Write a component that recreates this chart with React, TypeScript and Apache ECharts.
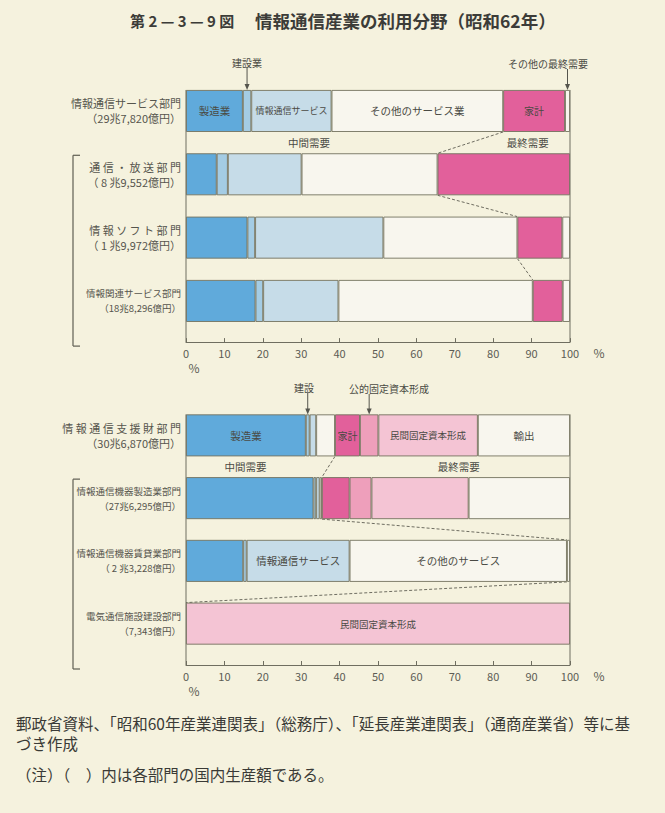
import React, { useEffect, useRef } from "react";
import * as echarts from "echarts";

// ---- data ----
const topCategories = ["情報通信サービス部門", "通 信 ・ 放 送 部 門", "情 報 ソ フ ト 部 門", "情報関連サービス部門"];
const topAmounts = ["（29兆7,820億円）", "（ 8 兆9,552億円）", "（ 1 兆9,972億円）", "（18兆8,296億円）"];
const bottomCategories = ["情 報 通 信 支 援 財 部 門", "情報通信機器製造業部門", "情報通信機器賃貸業部門", "電気通信施設建設部門"];
const bottomAmounts = ["（30兆6,870億円）", "（27兆6,295億円）", "（ 2 兆3,228億円）", "（7,343億円）"];

const xTickMin = 0;
const xTickMax = 100;
const xTickStep = 10;

// top panel (% of output)
const topManufacturing = [14.8, 8.0, 16.0, 18.1];
const topConstruction = [2.2, 2.9, 2.0, 2.0];
const topInfoServices = [20.9, 19.2, 33.4, 19.6];
const topOtherServices = [44.7, 35.4, 34.9, 50.6];
const topHouseholds = [16.1, 34.5, 11.7, 7.8];
const topOtherFinal = [1.3, 0, 2.0, 1.9];

// bottom panel (% of output)
const bottomManufacturing = [31.2, 33.2, 14.9, 0];
const bottomConstruction = [1.0, 0.7, 0.9, 0];
const bottomInfoServices = [1.7, 0.9, 26.8, 0];
const bottomOtherServices = [4.9, 0.6, 56.6, 0];
const bottomHouseholds = [6.5, 7.2, 0, 0];
const bottomPublicCapital = [4.8, 5.7, 0, 0];
const bottomPrivateCapital = [25.9, 25.3, 0, 100];
const bottomExports = [24.0, 26.4, 0.8, 0];

const FONT = '"Noto Sans CJK JP", "Noto Sans", sans-serif';
const BORDER = "#74735f";
const TXT = "#4a4a44";

type Seg = {
  name: string;
  data: number[];
  color: string;
  labels: number[];
  sizes?: number[];
  intermediate: boolean;
};

const topSegs: Seg[] = [
  { name: "製造業", data: topManufacturing, color: "#60aadb", labels: [0], sizes: [10.5], intermediate: true },
  { name: "建設業", data: topConstruction, color: "#a4cce4", labels: [], intermediate: true },
  { name: "情報通信サービス", data: topInfoServices, color: "#c6dce8", labels: [0], sizes: [9], intermediate: true },
  { name: "その他のサービス業", data: topOtherServices, color: "#f8f6ee", labels: [0], sizes: [10.5], intermediate: true },
  { name: "家計", data: topHouseholds, color: "#e2609b", labels: [0], sizes: [10], intermediate: false },
  { name: "その他の最終需要", data: topOtherFinal, color: "#f8f6ee", labels: [], intermediate: false },
];

const bottomSegs: Seg[] = [
  { name: "製造業", data: bottomManufacturing, color: "#60aadb", labels: [0], sizes: [10.5], intermediate: true },
  { name: "建設", data: bottomConstruction, color: "#a4cce4", labels: [], intermediate: true },
  { name: "情報通信サービス", data: bottomInfoServices, color: "#c6dce8", labels: [2], sizes: [0, 0, 10.5], intermediate: true },
  { name: "その他のサービス", data: bottomOtherServices, color: "#f8f6ee", labels: [2], sizes: [0, 0, 10.5], intermediate: true },
  { name: "家計", data: bottomHouseholds, color: "#e2609b", labels: [0], sizes: [10], intermediate: false },
  { name: "公的固定資本形成", data: bottomPublicCapital, color: "#ee9fbb", labels: [], intermediate: false },
  { name: "民間固定資本形成", data: bottomPrivateCapital, color: "#f4c4d4", labels: [0, 3], sizes: [9.5, 0, 0, 9.5], intermediate: false },
  { name: "輸出", data: bottomExports, color: "#f8f6ee", labels: [0], sizes: [10.5], intermediate: false },
];

const GRIDS = [
  { top: 79.3, height: 253.3, offset: 9.5 },
  { top: 404, height: 251, offset: 10 },
];
const BAR_W = 42;

function makeSeries(segs: Seg[], gi: number) {
  return segs.map((s) => ({
    type: "bar",
    name: s.name,
    stack: "p" + gi,
    xAxisIndex: gi,
    yAxisIndex: gi,
    barWidth: BAR_W,
    itemStyle: { color: s.color, borderColor: BORDER, borderWidth: 0.9 },
    label: { show: false },
    emphasis: { disabled: true },
    data: s.data.map((v, i) => {
      if (v === 0) return "-";
      const show = s.labels.includes(i);
      return {
        value: v,
        label: show
          ? {
              show: true,
              position: "inside",
              formatter: s.name,
              color: TXT,
              fontFamily: FONT,
              fontSize: (s.sizes && s.sizes[i]) || 10,
            }
          : { show: false },
      };
    }),
  }));
}

function yAxisFor(gi: number, cats: string[], amounts: string[], small: boolean[]) {
  return {
    type: "category",
    gridIndex: gi,
    data: cats,
    inverse: true,
    axisLine: { show: false },
    axisTick: { show: false },
    axisLabel: {
      margin: 5,
      align: "right",
      color: "#55554d",
      fontFamily: FONT,
      formatter: (v: string, i: number) => {
        const k = small[i] ? "s" : "a";
        return `{${k}|${v}}\n{${k}|${amounts[i]}}`;
      },
      rich: {
        a: { fontSize: 11, lineHeight: 15, fontFamily: FONT, color: "#55554d", align: "right" },
        s: { fontSize: 9.5, lineHeight: 15, fontFamily: FONT, color: "#55554d", align: "right" },
      },
    },
  };
}

function xAxisFor(gi: number) {
  return {
    type: "value",
    gridIndex: gi,
    min: xTickMin,
    max: xTickMax,
    interval: xTickStep,
    offset: GRIDS[gi].offset,
    splitLine: { show: false },
    axisLine: { show: true, lineStyle: { color: "#6f6e60", width: 1 } },
    axisTick: { show: true, inside: true, length: 4, lineStyle: { color: "#6f6e60" } },
    axisLabel: { color: "#5c5c54", fontSize: 11, margin: 5, fontFamily: FONT },
  };
}

export default function App() {
  const ref = useRef<HTMLDivElement>(null);
  useEffect(() => {
    if (!ref.current) return;
    const chart = echarts.init(ref.current, null, { renderer: "svg" });
    const option: any = {
      animation: false,
      backgroundColor: "#f5f2de",
      grid: GRIDS.map((g) => ({ left: 186, right: 95, top: g.top, height: g.height, containLabel: false })),
      xAxis: [xAxisFor(0), xAxisFor(1)],
      yAxis: [
        yAxisFor(0, topCategories, topAmounts, [false, false, false, true]),
        yAxisFor(1, bottomCategories, bottomAmounts, [false, true, true, true]),
      ],
      series: [...makeSeries(topSegs, 0), ...makeSeries(bottomSegs, 1)],
    };
    chart.setOption(option);

    const px = (gi: number, v: number) => chart.convertToPixel({ xAxisIndex: gi } as any, v) as number;
    const py = (gi: number, i: number) => chart.convertToPixel({ yAxisIndex: gi } as any, i) as number;
    const half = BAR_W / 2;
    const g: any[] = [];
    const line = (x1: number, y1: number, x2: number, y2: number, dash?: number[], color = "#6f6e60", w = 1) =>
      g.push({ type: "line", silent: true, shape: { x1, y1, x2, y2 }, style: { stroke: color, lineWidth: w, lineDash: dash || null } });
    const text = (t: string, x: number, y: number, size: number, align = "center", weight = "normal", color = TXT) =>
      g.push({
        type: "text",
        silent: true,
        x,
        y,
        style: {
          text: t,
          fill: color,
          font: `${weight} ${size}px ${FONT}`,
          textAlign: align,
          align,
          textVerticalAlign: "middle",
          verticalAlign: "middle",
        },
      });
    const arrow = (x: number, y1: number, y2: number) => {
      line(x, y1, x, y2 - 4, undefined, "#55554d", 1);
      g.push({ type: "polygon", silent: true, shape: { points: [[x - 2.5, y2 - 6], [x + 2.5, y2 - 6], [x, y2]] }, style: { fill: "#55554d" } });
    };

    const panels = [topSegs, bottomSegs];
    panels.forEach((segs, gi) => {
      const n = segs[0].data.length;
      const axisY = GRIDS[gi].top + GRIDS[gi].height + GRIDS[gi].offset;
      const topY = py(gi, 0) - half;
      // frame verticals
      line(px(gi, 0), topY, px(gi, 0), axisY);
      line(px(gi, 100), topY, px(gi, 100), axisY);
      // boundary intermediate / final demand
      const bound: number[] = [];
      for (let i = 0; i < n; i++) {
        let s = 0;
        segs.forEach((sg) => { if (sg.intermediate) s += sg.data[i]; });
        bound.push(s);
      }
      for (let i = 0; i < n - 1; i++) {
        line(px(gi, bound[i]), py(gi, i) + half, px(gi, bound[i + 1]), py(gi, i + 1) - half, [3, 2], "#5f5e52", 0.9);
      }
      // bracket grouping sub-sectors
      const by1 = py(gi, 1) - half + 2;
      const by2 = axisY + 4;
      line(73, by1, 73, by2, undefined, "#5f5e52", 1.2);
      line(73, by1, 80, by1, undefined, "#5f5e52", 1.2);
      line(73, by2, 80, by2, undefined, "#5f5e52", 1.2);
      // band labels
      const bandY = (py(gi, 0) + py(gi, 1)) / 2;
      text("中間需要", px(gi, gi === 0 ? 32 : 15.5), bandY, 10.5);
      text("最終需要", px(gi, gi === 0 ? 89 : 71), bandY, 10.5);
      // percent signs
      text("%", px(gi, 100) + 29, axisY + 10, 12, "center", "normal", "#5c5c54");
      text("%", px(gi, 0) + 8, axisY + 25, 12, "center", "normal", "#5c5c54");
    });

    // annotations with arrows (top)
    const t0 = py(0, 0) - half;
    const cX = px(0, topManufacturing[0] + topConstruction[0] / 2);
    text("建設業", cX, 62, 10);
    arrow(cX, 68, t0);
    const oX = px(0, 100 - topOtherFinal[0] / 2);
    text("その他の最終需要", 548, 63, 10);
    arrow(oX, 69, t0);
    // annotations (bottom)
    const t1 = py(1, 0) - half;
    const bcX = px(1, bottomManufacturing[0] + bottomConstruction[0] / 2);
    text("建設", 304, 387, 10);
    arrow(bcX, 393, t1);
    const pubX = px(
      1,
      bottomManufacturing[0] + bottomConstruction[0] + bottomInfoServices[0] + bottomOtherServices[0] + bottomHouseholds[0] + bottomPublicCapital[0] / 2
    );
    text("公的固定資本形成", 389, 388, 10);
    arrow(pubX, 394, t1);

    // title
    text("第 2 — 3 — 9 図", 130, 20, 15, "left", "bold", "#3c3c38");
    text("情報通信産業の利用分野（昭和62年）", 255, 20, 17.5, "left", "bold", "#3c3c38");

    // footer
    text("郵政省資料、「昭和60年産業連関表」（総務庁）、「延長産業連関表」（通商産業省）等に基", 16, 723, 15.5, "left", "normal", "#3a3a36");
    text("づき作成", 16, 743, 15.5, "left", "normal", "#3a3a36");
    text("（注）（　）内は各部門の国内生産額である。", 16, 774, 15.5, "left", "normal", "#3a3a36");

    chart.setOption({ graphic: g });
    return () => chart.dispose();
  }, []);
  return <div ref={ref} style={{ position: "absolute", left: 0, top: 0, width: 665, height: 813 }} />;
}
